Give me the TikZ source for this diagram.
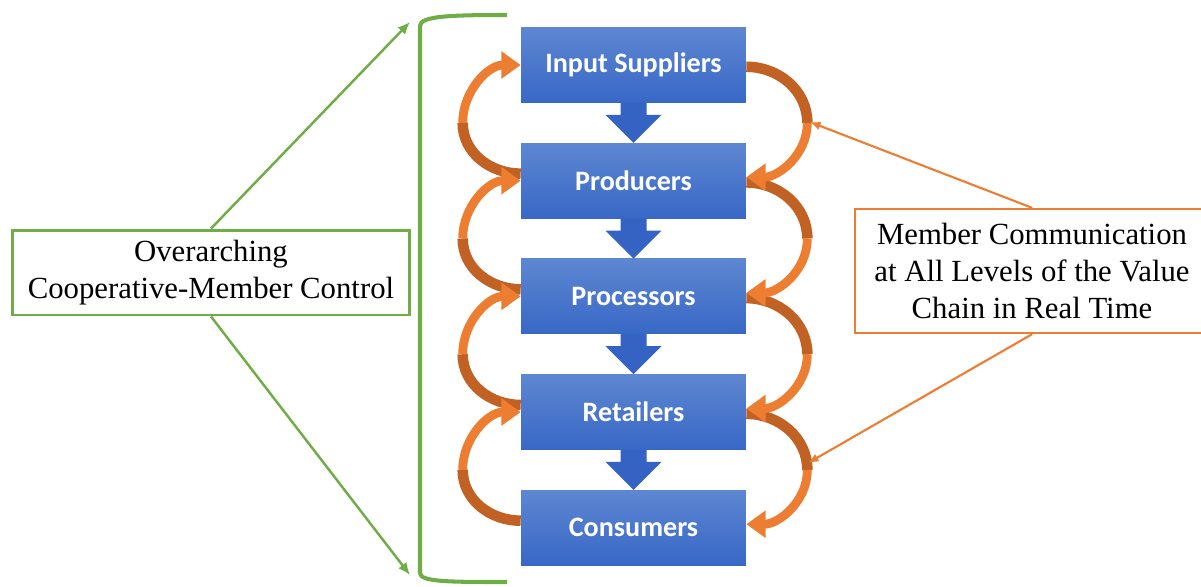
\documentclass[tikz,border=0pt]{standalone}
\usepackage{fontspec}
\setmainfont{Liberation Serif}
\newfontfamily\stagefont{Carlito}
\usetikzlibrary{positioning}
\usetikzlibrary{calc}
\usetikzlibrary{arrows.meta}

\definecolor{stagetop}{RGB}{94,135,210}
\definecolor{stagebot}{RGB}{56,104,198}
\definecolor{flowblue}{RGB}{52,99,196}
\definecolor{linkorange}{RGB}{237,125,49}
\definecolor{linkdark}{RGB}{194,97,36}
\definecolor{ctrlgreen}{RGB}{112,173,71}

\tikzset{
  stage/.style={rectangle, top color=stagetop, bottom color=stagebot,
    minimum width=4.5cm, minimum height=1.5cm, inner sep=0pt,
    text=white, font=\stagefont\bfseries\fontsize{16}{19}\selectfont},
  flow/.style={fill=flowblue},
  linkback/.style={draw=linkdark, line width=6pt},
  linkfront/.style={draw=linkorange, line width=5pt,
    -{Triangle[width=15pt,length=11pt]}},
  note/.style={rectangle, fill=white, align=center, inner sep=0pt,
    font=\fontsize{17.5}{21}\selectfont},
}

\begin{document}
\begin{tikzpicture}[x=0.02cm,y=-0.02cm]
        \useasboundingbox (0,0) rectangle (1201,586);

        % value chain
        \node[stage] (inp) at (633.5,65) {Input Suppliers};
        \node[stage,below=0.8cm of inp] (prod) {Producers};
        \node[stage,below=0.8cm of prod] (proc) {Processors};
        \node[stage,below=0.8cm of proc] (ret) {Retailers};
        \node[stage,below=0.8cm of ret] (cons) {Consumers};

        \fill[flow] ([xshift=-0.26cm]inp.south) -- ++(0,12) -- ++(-15,0) -- (prod.north) -- ++(28,-28) -- ++(-15,0) -- ++(0,-12) -- cycle;
        \fill[flow] ([xshift=-0.26cm]prod.south) -- ++(0,12) -- ++(-15,0) -- (proc.north) -- ++(28,-28) -- ++(-15,0) -- ++(0,-12) -- cycle;
        \fill[flow] ([xshift=-0.26cm]proc.south) -- ++(0,12) -- ++(-15,0) -- (ret.north) -- ++(28,-28) -- ++(-15,0) -- ++(0,-12) -- cycle;
        \fill[flow] ([xshift=-0.26cm]ret.south) -- ++(0,12) -- ++(-15,0) -- (cons.north) -- ++(28,-28) -- ++(-15,0) -- ++(0,-12) -- cycle;

        % turning points of the links
        \coordinate (l1) at ($(inp.west)!0.5!(prod.west)+(-58,0)$);
        \coordinate (l2) at ($(prod.west)!0.5!(proc.west)+(-58,0)$);
        \coordinate (l3) at ($(proc.west)!0.5!(ret.west)+(-58,0)$);
        \coordinate (l4) at ($(ret.west)!0.5!(cons.west)+(-58,0)$);
        \coordinate (r1) at ($(inp.east)!0.5!(prod.east)+(61,0)$);
        \coordinate (r2) at ($(prod.east)!0.5!(proc.east)+(61,0)$);
        \coordinate (r3) at ($(proc.east)!0.5!(ret.east)+(61,0)$);
        \coordinate (r4) at ($(ret.east)!0.5!(cons.east)+(61,0)$);

        \draw[linkback] ([yshift=4pt]prod.west) to[out=180,in=-90] (l1);
        \draw[linkback] ([yshift=4pt]proc.west) to[out=180,in=-90] (l2);
        \draw[linkback] ([yshift=4pt]ret.west) to[out=180,in=-90] (l3);
        \draw[linkback] ([yshift=4pt]cons.west) to[out=180,in=-90] (l4);
        \draw[linkback] ([yshift=-1pt]inp.east) to[out=0,in=90] (r1);
        \draw[linkback] ([yshift=-1pt]prod.east) to[out=0,in=90] (r2);
        \draw[linkback] ([yshift=-1pt]proc.east) to[out=0,in=90] (r3);
        \draw[linkback] ([yshift=-1pt]ret.east) to[out=0,in=90] (r4);

        \draw[linkfront] (l1) to[out=90,in=180] (inp.west);
        \draw[linkfront] (l2) to[out=90,in=180] (prod.west);
        \draw[linkfront] (l3) to[out=90,in=180] (proc.west);
        \draw[linkfront] (l4) to[out=90,in=180] (ret.west);
        \draw[linkfront] (r1) to[out=-90,in=0] ([yshift=2pt]prod.east);
        \draw[linkfront] (r2) to[out=-90,in=0] ([yshift=2pt]proc.east);
        \draw[linkfront] (r3) to[out=-90,in=0] ([yshift=2pt]ret.east);
        \draw[linkfront] (r4) to[out=-90,in=0] ([yshift=2pt]cons.east);

        % member control
        \draw[ctrlgreen, line width=2.3pt] (507,15) .. controls (450,15) and (420,16) .. (420,26) -- (420,573) .. controls (420,582) and (450,582) .. (507,582);
        \coordinate (brtop) at (410,22);
        \coordinate (brbot) at (410,575);
        \node[note, draw=ctrlgreen, line width=1.7pt, minimum width=7.96cm, minimum height=1.7cm] (ctrl) at (211,272.5) {Overarching\\Cooperative-Member Control};
        \draw[ctrlgreen, line width=1.4pt, -{Latex[length=7pt,width=6pt]}] (ctrl.north) -- (brtop);
        \draw[ctrlgreen, line width=1.4pt, -{Latex[length=7pt,width=6pt]}] (ctrl.south) -- (brbot);

        % communication
        \coordinate (ctop) at (810,122);
        \coordinate (cbot) at (808,463);
        \node[note, draw=linkorange, line width=1.4pt, minimum width=7.08cm, minimum height=2.48cm] (comm) at (1032,271) {Member Communication\\at All Levels of the Value\\Chain in Real Time};
        \draw[linkorange, line width=1.2pt, -{Latex[length=6pt,width=5pt]}] (comm.north) -- (ctop);
        \draw[linkorange, line width=1.2pt, -{Latex[length=6pt,width=5pt]}] (comm.south) -- (cbot);
      \end{tikzpicture}
\end{document}
